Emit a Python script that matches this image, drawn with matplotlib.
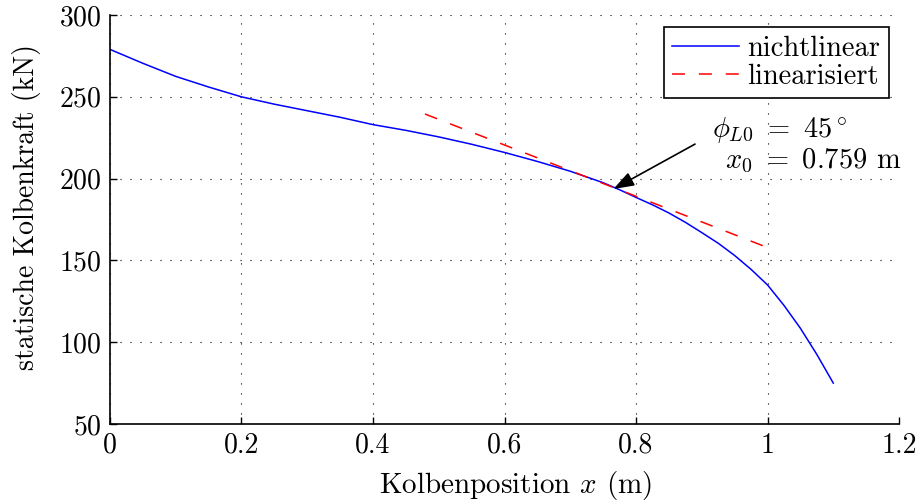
import matplotlib
matplotlib.use("Agg")
import matplotlib.pyplot as plt

plt.rcParams['font.family'] = ['cmr10', 'DejaVu Serif']
plt.rcParams['mathtext.fontset'] = 'cm'
plt.rcParams['axes.formatter.use_mathtext'] = True
plt.rcParams['font.size'] = 20

# nichtlinear
pos = [0, 0.05, 0.1, 0.15, 0.2, 0.25, 0.3, 0.35, 0.4, 0.45, 0.5, 0.55, 0.6,
       0.65, 0.7, 0.75, 0.775, 0.8, 0.825, 0.85, 0.875, 0.9, 0.925, 0.95,
       0.975, 1.0, 1.025, 1.05, 1.075, 1.1]
force = [279, 270.5, 262.5, 256, 250, 245.5, 241.5, 237.5, 233, 229.5, 225.5,
         221, 216, 210.5, 204.5, 197.5, 193.2, 188.5, 184, 179, 173.3, 167,
         160.5, 153, 144.5, 135, 122.5, 108.5, 92.5, 75]

# linearisiert
lin_pos = [0.479, 0.994]
lin_force = [239.5, 158.8]

x0 = 0.7655
f0 = 193.6

fig = plt.figure(figsize=(9.24, 5.01), dpi=100)
ax = fig.add_axes([0.119, 0.1537, 0.854, 0.8163])

ax.plot(pos, force, color=(0, 0, 1), lw=1.1, label='nichtlinear')
ax.plot(lin_pos, lin_force, color=(1, 0, 0), lw=1.1, ls=(0, (8.5, 9.1)), label='linearisiert')

ax.set_xlim(0, 1.2)
ax.set_ylim(50, 300)
ax.set_xticks([0, 0.2, 0.4, 0.6, 0.8, 1, 1.2])
ax.set_xticklabels(['0', '0.2', '0.4', '0.6', '0.8', '1', '1.2'])
ax.set_yticks([50, 100, 150, 200, 250, 300])
ax.grid(True, color='black', ls=(0, (1, 8)), lw=0.8)
ax.tick_params(direction='in', length=5, width=1, pad=6)
for s in ['top', 'right']:
    ax.spines[s].set_visible(False)
for s in ['left', 'bottom']:
    ax.spines[s].set_linewidth(1.2)

ax.set_xlabel('Kolbenposition $x$ (m)', fontsize=21)
ax.xaxis.set_label_coords(0.5146, -0.11)
ax.set_ylabel('statische Kolbenkraft (kN)')
ax.yaxis.set_label_coords(-0.088, 0.53)

ax.annotate('', xy=(x0, f0), xytext=(0.8897, 221.1),
            arrowprops=dict(arrowstyle='-|>,head_length=0.63,head_width=0.22',
                            mutation_scale=20, color='k', lw=1.2,
                            shrinkA=0, shrinkB=0))
ax.text(0.9156, 225.6, r'$\phi_{L0}\ =\ 45^\circ$', ha='left', va='baseline', fontsize=20.5)
ax.text(0.9354, 206.3, r'$x_0\ =\ 0.759$ m', ha='left', va='baseline', fontsize=20.5)

leg = ax.legend(loc='upper right', bbox_to_anchor=(0.9873, 0.9707), fancybox=False,
                framealpha=1, edgecolor='black', handlelength=2.35, borderpad=0.3,
                labelspacing=0.05, handletextpad=0.3, borderaxespad=0, fontsize=20.5)
leg.get_frame().set_linewidth(1.2)

fig.savefig('out.png', dpi=100)
